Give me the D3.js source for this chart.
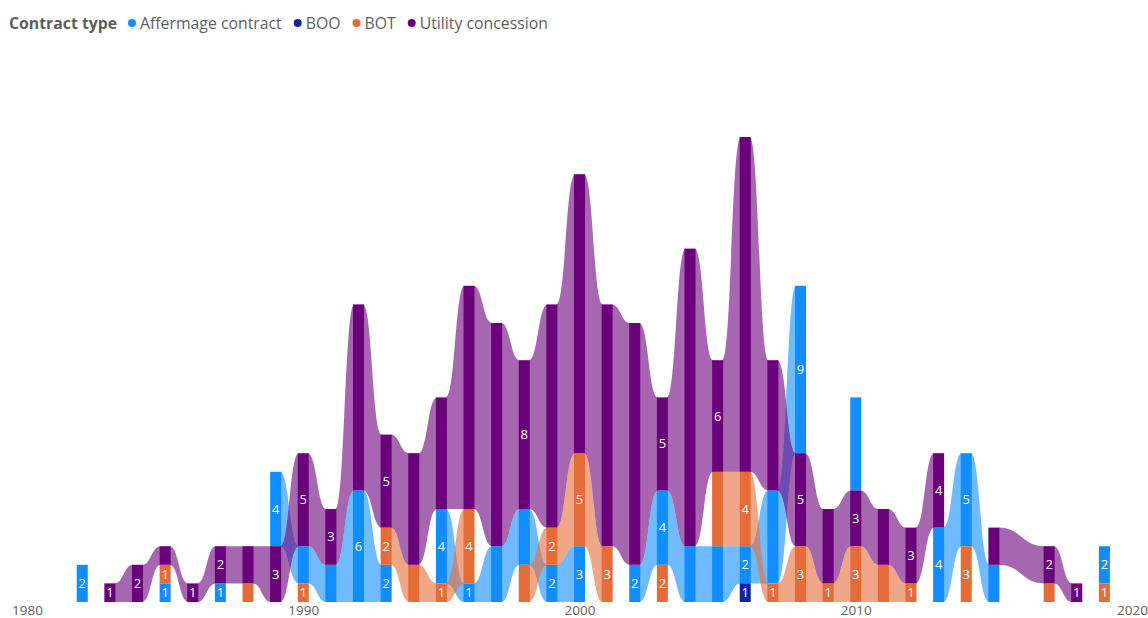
<!DOCTYPE html>
<html>
<head>
<meta charset="utf-8">
<script src="https://cdn.jsdelivr.net/npm/d3@7"></script>
<style>
  body { margin: 0; background: #fff; }
  svg text { font-family: "Segoe UI", "Open Sans", sans-serif; }
</style>
</head>
<body>
<div id="chart"></div>
<script>
// categories (2016 has no contracts)
const years = [1982,1983,1984,1985,1986,1987,1988,1989,1990,1991,1992,1993,1994,1995,1996,1997,1998,1999,
  2000,2001,2002,2003,2004,2005,2006,2007,2008,2009,2010,2011,2012,2013,2014,2015,2017,2018,2019];

const seriesNames = ['Affermage contract', 'BOO', 'BOT', 'Utility concession'];
const seriesColors = ['#118DFF', '#12239E', '#E66C37', '#6B007B'];

const affermage = [2,0,0,1,0,1,0,4,2,2,6,2,0,4,1,3,3,2, 3,0,2,4,3,3,2,5,9,0,5,0,0,4,5,2,0,0,2];
const boo       = [0,0,0,0,0,0,0,0,0,0,0,0,0,0,0,0,0,0, 0,0,0,0,0,0,1,0,0,0,0,0,0,0,0,0,0,0,0];
const bot       = [0,0,0,1,0,0,1,0,1,0,0,2,2,1,4,0,2,2, 5,3,0,2,0,4,4,1,3,1,3,2,1,0,3,0,1,0,1];
const utility   = [0,1,2,1,1,2,2,3,5,3,10,5,6,6,12,12,8,12, 15,13,13,5,16,6,18,7,5,4,3,3,3,4,0,2,2,1,0];

// years whose bar carries a data label, per series
const labelAff  = [1982,1985,1987,1989,1992,1993,1995,1996,1999,2000,2002,2003,2006,2008,2013,2014,2019];
const labelBoo  = [2006];
const labelBot  = [1985,1990,1993,1995,1996,1999,2000,2001,2003,2006,2007,2008,2009,2010,2012,2014,2019];
const labelUtil = [1983,1984,1986,1987,1989,1990,1991,1993,1998,2003,2005,2008,2010,2012,2013,2017,2018];

const xTicks = [1980, 1990, 2000, 2010, 2020];

const W = 1148, H = 618;
const barW = 11;
const values = [affermage, boo, bot, utility];
const labelSets = [labelAff, labelBoo, labelBot, labelUtil].map(a => new Set(a));

const svg = d3.select('#chart').append('svg').attr('width', W).attr('height', H);

const x = d3.scaleLinear().domain([1980, 2020]).range([27, 1132]);
const y = d3.scaleLinear().domain([0, 25]).range([602, 137]);

// stack per year: smallest at bottom, ties by legend order
const stacks = years.map((yr, i) => {
  const items = seriesNames.map((name, s) => ({ s, v: values[s][i] })).filter(d => d.v > 0);
  items.sort((a, b) => a.v - b.v || a.s - b.s);
  let acc = 0;
  const out = {};
  items.forEach(d => { out[d.s] = { year: yr, s: d.s, v: d.v, y0: acc, y1: acc + d.v }; acc += d.v; });
  return out;
});

// ribbons between neighbouring categories
const ribbons = [];
for (let i = 0; i < years.length - 1; i++) {
  seriesNames.forEach((_, s) => {
    const a = stacks[i][s], b = stacks[i + 1][s];
    if (a && b) ribbons.push({ s, a, b });
  });
}

function ribbonPath(r) {
  const xa = x(r.a.year) + barW / 2 - 1, xb = x(r.b.year) - barW / 2 + 1;
  const xm = (xa + xb) / 2;
  const p = d3.path();
  p.moveTo(xa, y(r.a.y1));
  p.bezierCurveTo(xm, y(r.a.y1), xm, y(r.b.y1), xb, y(r.b.y1));
  p.lineTo(xb, y(r.b.y0));
  p.bezierCurveTo(xm, y(r.b.y0), xm, y(r.a.y0), xa, y(r.a.y0));
  p.closePath();
  return p.toString();
}

svg.append('g').selectAll('path')
  .data(ribbons)
  .join('path')
  .attr('d', ribbonPath)
  .attr('fill', d => seriesColors[d.s])
  .attr('fill-opacity', 0.6);

const segs = stacks.flatMap(st => Object.values(st));

svg.append('g').selectAll('rect')
  .data(segs)
  .join('rect')
  .attr('x', d => x(d.year) - barW / 2)
  .attr('y', d => y(d.y1))
  .attr('width', barW)
  .attr('height', d => y(d.y0) - y(d.y1))
  .attr('fill', d => seriesColors[d.s]);

svg.append('g').selectAll('text')
  .data(segs.filter(d => labelSets[d.s].has(d.year)))
  .join('text')
  .attr('x', d => x(d.year))
  .attr('y', d => (y(d.y0) + y(d.y1)) / 2)
  .attr('dy', '0.35em')
  .attr('text-anchor', 'middle')
  .attr('fill', '#fff')
  .attr('font-size', 13)
  .text(d => d.v);

// x axis (labels only)
const xAxis = svg.append('g')
  .attr('transform', 'translate(0,602)')
  .call(d3.axisBottom(x).tickValues(xTicks).tickFormat(d3.format('d')).tickSize(0).tickPadding(3));
xAxis.select('.domain').remove();
xAxis.selectAll('text').attr('fill', '#605E5C').attr('font-size', 13.5)
  .attr('font-family', '"Segoe UI", "Open Sans", sans-serif');

// legend
const legend = svg.append('g').attr('transform', 'translate(0,28.5)');
legend.append('text').attr('x', 9).attr('font-size', 15.8).attr('font-weight', 'bold')
  .attr('fill', '#605E5C').text('Contract type');
let lx = 132;
seriesNames.forEach((name, s) => {
  legend.append('circle').attr('cx', lx).attr('cy', -5.5).attr('r', 4).attr('fill', seriesColors[s]);
  const t = legend.append('text').attr('x', lx + 8).attr('font-size', 15.8)
    .attr('fill', '#605E5C').text(name);
  lx += 8 + t.node().getComputedTextLength() + 16;
});
</script>
</body>
</html>
